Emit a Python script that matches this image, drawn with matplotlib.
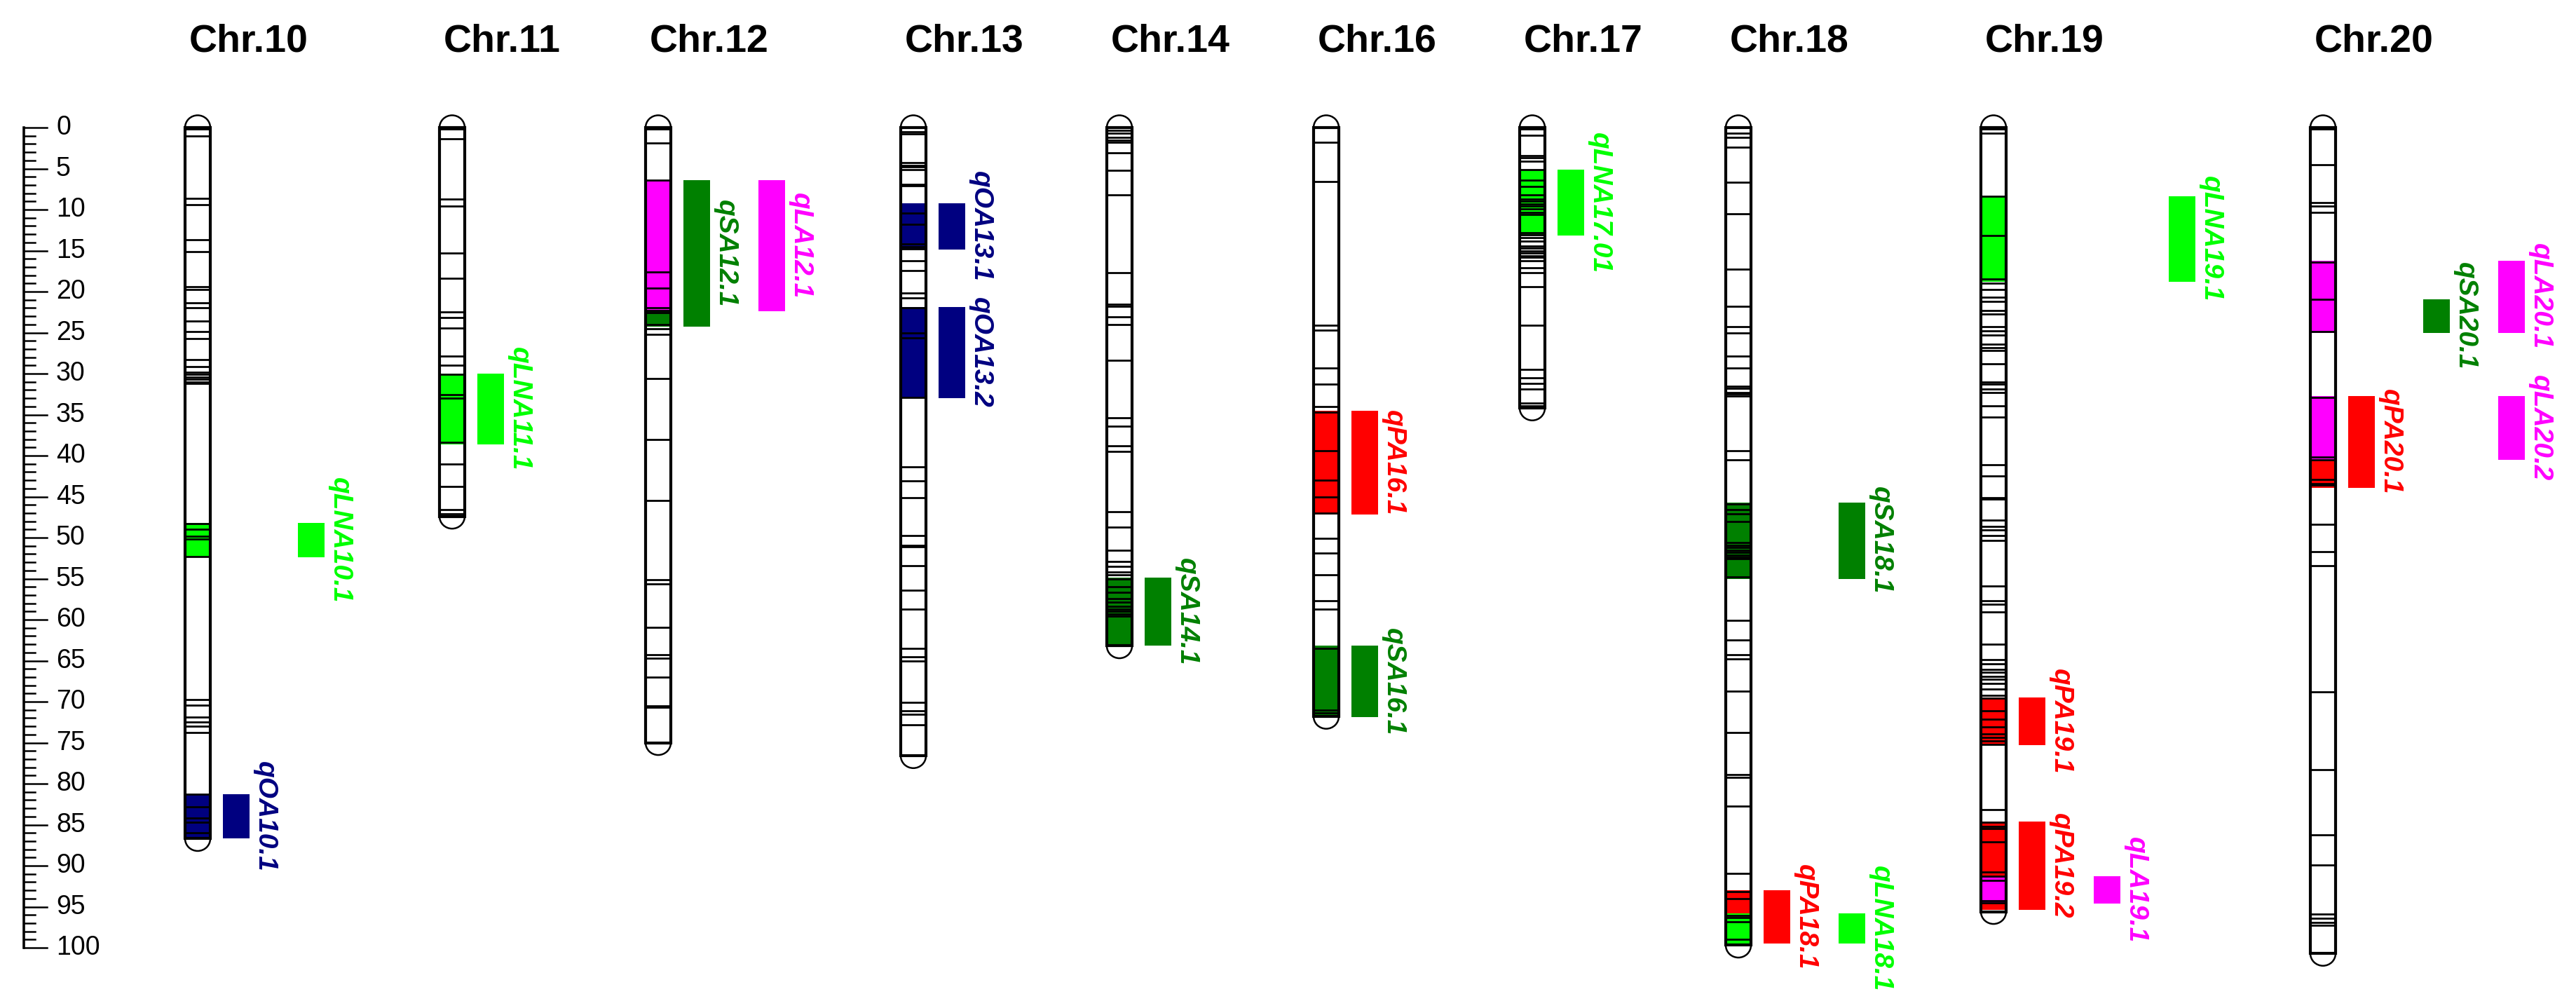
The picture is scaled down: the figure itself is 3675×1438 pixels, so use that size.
import matplotlib
matplotlib.use("Agg")
import matplotlib.pyplot as plt
from matplotlib.patches import Rectangle, Ellipse
import numpy as np

plt.rcParams['font.family'] = ['Liberation Sans', 'DejaVu Sans']

# chromosomes, lengths (cM) and marker positions (cM)
chroms = ['Chr.10', 'Chr.11', 'Chr.12', 'Chr.13', 'Chr.14',
          'Chr.16', 'Chr.17', 'Chr.18', 'Chr.19', 'Chr.20']
chrom_len = [86.7, 47.4, 75.0, 76.6, 63.2, 71.8, 34.2, 99.7, 95.6, 100.7]

markers = {
    'Chr.10': [0, 0.2, 1.0, 8.6, 9.4, 13.7, 15.1, 19.4, 19.7, 21.4, 22.0, 23.6,
               24.9, 25.7, 28.3, 29.1, 29.8, 30.1, 30.4, 30.7, 31.0, 31.2,
               48.3, 49.0, 49.8, 50.2, 52.3, 69.7, 70.4, 71.9, 72.5, 73.0,
               73.8, 81.3, 82.8, 84.2, 84.7, 86.0, 86.7],
    'Chr.11': [0, 0.2, 1.4, 8.7, 9.6, 15.3, 18.4, 22.5, 23.2, 24.4, 27.9, 29.0,
               30.1, 32.6, 33.0, 38.4, 41.0, 43.8, 46.6, 47.1, 47.4],
    'Chr.12': [0, 0.2, 1.9, 6.4, 17.6, 19.6, 22.0, 22.3, 22.6, 24.0, 24.5, 25.2,
               30.6, 38.0, 45.5, 55.1, 55.6, 60.9, 64.3, 64.7, 67.0, 70.5,
               70.7, 75.0],
    'Chr.13': [0, 0.5, 0.8, 4.3, 4.6, 4.8, 5.1, 6.9, 7.1, 10.4, 11.8, 14.2,
               14.5, 14.8, 16.2, 17.4, 20.2, 20.8, 22.0, 25.0, 25.6, 32.9,
               41.4, 43.1, 45.1, 49.7, 50.9, 51.1, 53.4, 56.4, 58.7, 63.5,
               64.5, 65.0, 70.1, 71.1, 71.5, 72.8, 76.6],
    'Chr.14': [0, 0.3, 0.7, 1.2, 1.5, 1.8, 3.1, 5.2, 8.2, 17.7, 21.5, 21.8,
               23.1, 24.0, 28.4, 35.4, 36.4, 38.8, 39.5, 46.8, 48.7, 51.5,
               52.9, 53.5, 54.2, 54.5, 55.0, 56.0, 56.7, 57.4, 57.9, 58.4,
               58.7, 59.0, 59.3, 59.6, 63.2],
    'Chr.16': [0, 1.8, 6.6, 24.1, 24.7, 29.3, 31.3, 34.0, 34.7, 39.4, 43.0,
               45.0, 47.0, 50.1, 51.9, 54.5, 57.7, 58.7, 63.5, 71.0, 71.4,
               71.8],
    'Chr.17': [0, 0.2, 0.9, 3.4, 3.7, 4.1, 5.1, 6.4, 7.2, 8.2, 8.7, 9.0, 9.3,
               9.6, 9.9, 10.3, 10.6, 12.8, 13.1, 13.4, 13.8, 14.4, 14.7, 15.0,
               15.3, 15.6, 15.8, 16.2, 17.1, 17.7, 19.4, 24.1, 29.5, 30.5,
               31.2, 31.9, 33.6, 33.9, 34.2],
    'Chr.18': [0, 0.7, 1.2, 2.4, 6.7, 10.5, 17.3, 21.8, 24.3, 25.0, 27.9, 29.3,
               31.5, 31.8, 32.3, 32.5, 32.7, 39.4, 40.5, 45.9, 46.6, 47.1,
               48.0, 50.6, 50.9, 51.2, 51.5, 51.8, 52.1, 52.4, 52.6, 54.8,
               60.1, 62.5, 64.3, 64.8, 68.7, 73.8, 78.9, 79.2, 82.7, 90.9,
               93.2, 94.0, 96.1, 96.3, 96.8, 99.0, 99.7],
    'Chr.19': [0, 0.2, 0.7, 8.4, 13.2, 18.5, 19.0, 19.7, 20.7, 21.2, 22.3, 22.7,
               24.3, 24.8, 25.3, 26.4, 26.8, 27.2, 28.8, 31.0, 31.3, 31.9,
               32.3, 33.9, 35.3, 41.1, 42.5, 45.1, 45.3, 47.9, 48.6, 49.1,
               49.7, 50.3, 55.9, 57.7, 58.1, 59.1, 63.0, 64.9, 65.4, 66.1,
               66.4, 66.9, 67.3, 67.8, 68.5, 69.2, 69.6, 71.1, 72.1, 73.1,
               73.9, 74.4, 74.8, 75.2, 83.2, 84.7, 85.2, 85.5, 87.1, 90.8,
               91.3, 91.8, 94.3, 94.5, 95.6],
    'Chr.20': [0, 0.2, 4.5, 9.1, 9.6, 10.3, 16.4, 20.9, 24.9, 32.9, 40.2, 40.5,
               42.9, 43.4, 43.6, 48.4, 51.7, 53.4, 68.8, 78.3, 86.2, 89.9,
               95.9, 96.4, 96.9, 97.3, 100.7],
}

# QTL intervals
qtl_name = ['qOA10.1', 'qLNA10.1', 'qLNA11.1', 'qSA12.1', 'qLA12.1',
            'qOA13.1', 'qOA13.2', 'qSA14.1', 'qPA16.1', 'qSA16.1',
            'qLNA17.01', 'qSA18.1', 'qPA18.1', 'qLNA18.1', 'qLNA19.1',
            'qPA19.1', 'qPA19.2', 'qLA19.1', 'qSA20.1', 'qLA20.1',
            'qLA20.2', 'qPA20.1']
qtl_chrom = ['Chr.10', 'Chr.10', 'Chr.11', 'Chr.12', 'Chr.12',
             'Chr.13', 'Chr.13', 'Chr.14', 'Chr.16', 'Chr.16',
             'Chr.17', 'Chr.18', 'Chr.18', 'Chr.18', 'Chr.19',
             'Chr.19', 'Chr.19', 'Chr.19', 'Chr.20', 'Chr.20',
             'Chr.20', 'Chr.20']
qtl_start = [81.3, 48.2, 30.0, 6.4, 6.4, 9.2, 21.9, 54.9, 34.5, 63.2,
             5.1, 45.7, 93.0, 95.8, 8.4, 69.5, 84.6, 91.3, 20.9, 16.2,
             32.7, 32.7]
qtl_end = [86.7, 52.4, 38.6, 24.3, 22.4, 14.9, 33.0, 63.2, 47.2, 71.9,
           13.2, 55.0, 99.5, 99.5, 18.8, 75.3, 95.4, 94.6, 25.0, 25.0,
           40.5, 43.9]
qtl_lane = [0, 1, 0, 0, 1, 0, 0, 0, 0, 0,
            0, 1, 0, 1, 2, 0, 0, 1, 1, 2,
            2, 0]

trait_color = {'SA': '#008000', 'PA': '#ff0000', 'OA': '#000080',
               'LNA': '#00ff00', 'LA': '#ff00ff'}
trait_order = ['SA', 'PA', 'OA', 'LNA', 'LA']

# layout (pixels)
chrom_x = [282, 645, 939, 1303, 1597, 1892, 2186, 2480, 2844, 3314]
half_w = 18
lane_off = 36
lane_step = 107
box_w = 38

fig = plt.figure(figsize=(36.75, 14.38), dpi=100)
ax = fig.add_axes([0, 0, 1, 1])
ax.set_xlim(0, 3675)
ax.set_ylim(107.35, -15.56)
ax.axis('off')

# ruler
ruler_x = 34
ax.plot([ruler_x, ruler_x], [0, 100], color='black', lw=2.6)
for t in range(0, 101):
    major = t % 5 == 0
    ax.plot([ruler_x, ruler_x + (33 if major else 16)], [t, t],
            color='black', lw=1.8)
    if major:
        ax.text(80, t, str(t), fontsize=27, ha='left', va='center')


def trait_of(name):
    for tr in ['LNA', 'SA', 'PA', 'OA', 'LA']:
        if name[1:].startswith(tr):
            return tr


for ci, ch in enumerate(chroms):
    cx = chrom_x[ci]
    L = chrom_len[ci]
    ax.text(cx - 12, -10.5, ch, fontsize=40, fontweight='bold',
            ha='left', va='center')
    for yc in (0, L):
        ax.add_patch(Ellipse((cx, yc), 2 * half_w, 3.0, facecolor='white',
                             edgecolor='black', lw=1.8, zorder=1))
    ax.add_patch(Rectangle((cx - half_w, 0), 2 * half_w, L,
                           facecolor='white', edgecolor='none', zorder=2))

    idx = [i for i in range(len(qtl_name)) if qtl_chrom[i] == ch]
    idx_fill = sorted(idx, key=lambda i: trait_order.index(trait_of(qtl_name[i])))
    for k, i in enumerate(idx_fill):
        col = trait_color[trait_of(qtl_name[i])]
        ax.add_patch(Rectangle((cx - half_w, qtl_start[i]), 2 * half_w,
                               qtl_end[i] - qtl_start[i], facecolor=col,
                               edgecolor='none', zorder=3 + k * 0.01))
    ax.hlines(markers[ch], cx - half_w, cx + half_w, colors='black',
              lw=2.0, zorder=4)
    ax.add_patch(Rectangle((cx - half_w, 0), 2 * half_w, L,
                           facecolor='none', edgecolor='black', lw=3.0,
                           zorder=5))

    for i in idx:
        col = trait_color[trait_of(qtl_name[i])]
        bx = cx + lane_off + lane_step * qtl_lane[i]
        ax.add_patch(Rectangle((bx, qtl_start[i]), box_w,
                               qtl_end[i] - qtl_start[i], facecolor=col,
                               edgecolor='none', zorder=3))
        ax.text(bx + box_w + 4, (qtl_start[i] + qtl_end[i]) / 2, qtl_name[i],
                color=col, fontsize=28, fontweight='bold', fontstyle='italic',
                rotation=-90, ha='left', va='center')

fig.savefig('out.png', dpi=100, facecolor='white')
